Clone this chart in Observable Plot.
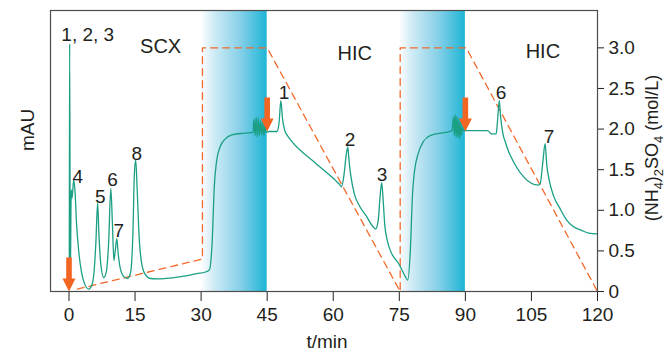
<!DOCTYPE html>
<html>
<head>
<meta charset="utf-8">
<script src="https://cdn.jsdelivr.net/npm/d3@7"></script>
<script src="https://cdn.jsdelivr.net/npm/@observablehq/plot@0.6"></script>
<style>
  body { margin: 0; background: #fff; }
  #chart { width: 668px; height: 354px; }
</style>
</head>
<body>
<div id="chart"></div>
<script>
// UV trace (mAU, arbitrary units on the shared vertical scale)
const time = [
  0.0, 0.05, 0.15, 0.3, 0.5, 0.7, 1.05, 1.35, 1.7, 2.2, 2.8, 3.5, 4.5, 5.2, 5.7, 6.1, 6.5, 6.8, 7.2, 7.9,
  8.5, 9.0, 9.5, 9.85, 10.2, 10.5, 10.85, 11.2, 11.8, 12.5, 13.3, 14.0, 14.5, 14.85, 15.15, 15.45, 15.9, 16.4, 17.2, 18.5,
  20.0, 25.0, 29.0, 31.0, 31.9, 32.5, 33.0, 33.5, 34.3, 35.5, 37.0, 40.0, 41.8, 42.0, 42.25, 42.5, 42.75, 43.0, 43.25, 43.5,
  43.75, 44.0, 44.25, 44.5, 44.75, 45.5, 47.2, 47.7, 48.1, 48.5, 49.0, 49.6, 50.4, 56.0, 61.4, 61.9, 62.4, 62.9, 63.3, 63.6,
  64.0, 64.8, 66.0, 67.5, 69.0, 69.6, 70.2, 70.6, 71.0, 71.3, 71.7, 72.3, 73.0, 75.0, 76.2, 76.9, 77.5, 78.0, 78.5, 79.3,
  80.5, 82.0, 87.0, 87.3, 87.5, 87.7, 87.9, 88.1, 88.3, 88.5, 88.7, 88.9, 89.1, 89.3, 89.6, 95.0, 96.0, 97.0, 97.3, 97.7,
  98.0, 98.5, 99.2, 100.0, 106.6, 107.0, 107.6, 108.1, 108.5, 109.0, 110.0, 111.5, 113.0, 114.5, 116.5, 118.0, 120.0
];
const absorbance = [
  0.03, 0.05, 3.05, 0.15, 1.25, 1.15, 1.37, 1.25, 0.85, 0.5, 0.25, 0.1, 0.03, 0.08, 0.25, 0.6, 1.09, 0.7, 0.35, 0.17,
  0.25, 0.6, 1.27, 0.85, 0.38, 0.5, 0.65, 0.45, 0.25, 0.18, 0.16, 0.24, 0.7, 1.45, 1.62, 1.3, 0.7, 0.38, 0.22, 0.16,
  0.155, 0.18, 0.22, 0.24, 0.27, 0.6, 1.3, 1.6, 1.78, 1.88, 1.93, 1.95, 1.96, 2.12, 1.92, 2.15, 1.9, 2.13, 1.92, 2.1,
  1.93, 2.08, 1.92, 2.05, 1.96, 1.97, 1.97, 2.08, 2.35, 2.12, 1.98, 1.92, 1.86, 1.58, 1.32, 1.29, 1.42, 1.66, 1.78, 1.6,
  1.42, 1.2, 1.05, 0.93, 0.8, 0.77, 0.87, 1.15, 1.34, 1.15, 0.82, 0.62, 0.5, 0.33, 0.2, 0.14, 0.5, 1.2, 1.5, 1.7,
  1.85, 1.92, 1.98, 2.15, 1.92, 2.18, 1.9, 2.16, 1.9, 2.12, 1.88, 2.08, 1.93, 2.02, 1.98, 1.98, 1.94, 1.94, 2.1, 2.35,
  2.15, 1.95, 1.82, 1.70, 1.31, 1.33, 1.6, 1.82, 1.55, 1.38, 1.18, 1.02, 0.88, 0.8, 0.75, 0.72, 0.71
];

// (NH4)2SO4 concentration programme, mol/L
const saltTime = [1.9, 30.3, 30.3, 45.0, 75.2, 75.2, 90.2, 120.0];
const saltLevel = [0.03, 0.40, 3.0, 3.0, 0.0, 3.0, 3.0, 0.0];

// Column-switching windows (min)
const bandStart = [30, 75];
const bandEnd = [45, 90];

// Injection / switching events
const eventTime = [0, 45, 90];
const eventLevel = [0, 1.97, 1.97];

// Peak numbers
const peakText = ["1, 2, 3", "4", "5", "6", "7", "8", "1", "2", "3", "6", "7"];
const peakTime = [4.25, 2.0, 7.1, 9.9, 11.3, 15.4, 48.8, 63.8, 71.1, 98.1, 109.0];
const peakLevel = [3.16, 1.41, 1.17, 1.38, 0.75, 1.70, 2.45, 1.87, 1.44, 2.45, 1.90];

// Mode names
const modeText = ["SCX", "HIC", "HIC"];
const modeTime = [20.8, 64.9, 107.6];
const modeLevel = [3.02, 2.93, 2.95];

// Axis ticks
const timeTicks = [0, 15, 30, 45, 60, 75, 90, 105, 120];
const saltTicks = [0, 0.5, 1.0, 1.5, 2.0, 2.5, 3.0];

const trace = time.map((t, i) => ({t, v: absorbance[i]}));
const salt = saltTime.map((t, i) => ({t, v: saltLevel[i]}));
const bands = bandStart.map((s, i) => ({s, e: bandEnd[i]}));
const events = eventTime.map((t, i) => ({t, v: eventLevel[i]}));
const peaks = peakText.map((label, i) => ({label, t: peakTime[i], v: peakLevel[i]}));
const modes = modeText.map((label, i) => ({label, t: modeTime[i], v: modeLevel[i]}));

const ink = "#231f20";
const orange = "#f26522";

// Filled block arrow pointing along the vector
const blockArrow = {
  draw(context, l) {
    const shaft = 2.8, head = 6.5, headLen = 13;
    context.moveTo(-shaft, 0);
    context.lineTo(-shaft, -l + headLen);
    context.lineTo(-head, -l + headLen);
    context.lineTo(0, -l);
    context.lineTo(head, -l + headLen);
    context.lineTo(shaft, -l + headLen);
    context.lineTo(shaft, 0);
    context.closePath();
  }
};

const chart = Plot.plot({
  width: 668,
  height: 354,
  marginLeft: 50,
  marginRight: 71,
  marginTop: 10,
  marginBottom: 63,
  style: {fontFamily: "'Liberation Sans', Arial, Helvetica, sans-serif", fontSize: "19px", color: ink, background: "#fff"},
  x: {domain: [-4.2, 120], ticks: timeTicks, tickSize: 10, tickPadding: 6, label: null},
  y: {
    domain: [0, 3.46], axis: "right", ticks: saltTicks,
    tickFormat: d => d === 0 ? "0" : d.toFixed(1),
    tickSize: 6, tickPadding: 5, label: null
  },
  marks: [
    Plot.rect(bands, {x1: "s", x2: "e", fill: "url(#switchFill)"}),
    Plot.line(salt, {x: "t", y: "v", stroke: "#f26a2c", strokeWidth: 1.3, strokeDasharray: "7,5"}),
    Plot.line(trace, {x: "t", y: "v", stroke: "#1a9f84", strokeWidth: 1.3, curve: "monotone-x"}),
    Plot.vector(events, {x: "t", y: "v", length: 34, rotate: 180, anchor: "end", shape: blockArrow, fill: orange, stroke: "none"}),
    Plot.text(peaks, {x: "t", y: "v", text: "label", fontSize: 19, fill: ink}),
    Plot.text(modes, {x: "t", y: "v", text: "label", fontSize: 20, fill: ink}),
    Plot.text(["t/min"], {frameAnchor: "bottom", dy: 56, dx: 3, fontSize: 19, fill: ink}),
    Plot.text(["mAU"], {frameAnchor: "left", dx: -23, rotate: -90, fontSize: 19, fill: ink}),
    Plot.frame({stroke: "#4d4d4d", strokeWidth: 1.2})
  ]
});

// Horizontal fill for the column-switching windows
const svg = d3.select(chart);
const grad = svg.insert("defs", ":first-child")
  .append("linearGradient")
  .attr("id", "switchFill")
  .attr("x1", "0").attr("x2", "1").attr("y1", "0").attr("y2", "0");
grad.append("stop").attr("offset", "0%").attr("stop-color", "#ffffff");
grad.append("stop").attr("offset", "18%").attr("stop-color", "#d3ecf6");
grad.append("stop").attr("offset", "60%").attr("stop-color", "#86d0e8");
grad.append("stop").attr("offset", "100%").attr("stop-color", "#1db5d6");

// Right-hand axis title with subscripts
const title = svg.append("text")
  .attr("transform", "translate(652,148) rotate(-90)")
  .attr("text-anchor", "middle")
  .attr("dy", "0.35em")
  .attr("fill", ink)
  .style("font-size", "18px");
const parts = [["(NH", false], ["4", true], [")", false], ["2", true], ["SO", false], ["4", true], [" (mol/L)", false]];
parts.forEach(([s, sub], i) => {
  const ts = title.append("tspan").text(s);
  if (sub) ts.attr("dy", "5").style("font-size", "13px");
  else if (i > 0) ts.attr("dy", "-5");
});

document.getElementById("chart").appendChild(chart);
</script>
</body>
</html>
